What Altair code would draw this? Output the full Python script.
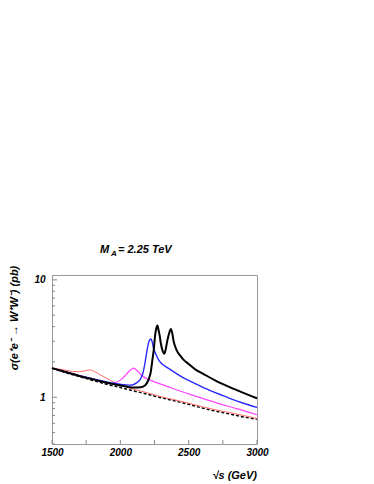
import altair as alt
import pandas as pd

# ---- data (sqrt(s) in GeV, sigma in pb) ----
sm_x = [1500, 1600, 1700, 1800, 1900, 2000, 2100, 2200, 2300, 2400, 2500, 2600, 2700, 2800, 2900, 3000]
sm_y = [1.77, 1.62, 1.50, 1.39, 1.29, 1.21, 1.13, 1.06, 0.99, 0.93, 0.87, 0.81, 0.76, 0.72, 0.68, 0.65]

red_x = [1500, 1600, 1650, 1700, 1740, 1778, 1810, 1850, 1900, 1950, 2000, 2100, 2200, 2300, 2400, 2500, 2600, 2700, 2800, 2900, 3000]
red_y = [1.78, 1.70, 1.66, 1.65, 1.68, 1.71, 1.66, 1.56, 1.45, 1.35, 1.27, 1.17, 1.09, 1.01, 0.95, 0.89, 0.83, 0.78, 0.74, 0.70, 0.66]

mag_x = [1500, 1600, 1700, 1800, 1900, 1925, 1962, 2000, 2040, 2072, 2096, 2120, 2145, 2180, 2218, 2291, 2400, 2500, 2600, 2700, 2800, 2900, 3000]
mag_y = [1.77, 1.64, 1.53, 1.43, 1.33, 1.31, 1.33, 1.40, 1.55, 1.70, 1.77, 1.70, 1.58, 1.47, 1.40, 1.30, 1.17, 1.07, 0.98, 0.90, 0.83, 0.77, 0.71]

blue_x = [1500, 1600, 1700, 1800, 1900, 2000, 2072, 2100, 2132, 2150, 2165, 2182, 2194, 2206, 2215, 2223, 2232, 2243, 2262, 2280, 2300, 2350, 2400, 2450, 2500, 2600, 2700, 2800, 2900, 3000]
blue_y = [1.77, 1.64, 1.53, 1.43, 1.35, 1.29, 1.27, 1.29, 1.36, 1.45, 1.60, 2.01, 2.45, 2.89, 3.08, 3.14, 3.00, 2.62, 2.30, 2.08, 1.95, 1.77, 1.62, 1.49, 1.39, 1.22, 1.09, 0.98, 0.89, 0.82]

blk_x = [1500, 1600, 1700, 1800, 1900, 2000, 2050, 2100, 2150, 2180, 2194, 2210, 2223, 2235, 2243, 2255, 2265, 2272, 2280, 2287, 2296, 2304, 2315, 2322, 2330, 2345, 2360, 2370, 2380, 2390, 2410, 2440, 2460, 2500, 2550, 2600, 2700, 2800, 2900, 3000]
blk_y = [1.77, 1.64, 1.52, 1.42, 1.33, 1.26, 1.23, 1.21, 1.22, 1.26, 1.32, 1.45, 1.65, 2.10, 2.45, 3.40, 3.95, 4.08, 3.70, 3.40, 2.90, 2.62, 2.40, 2.35, 2.50, 3.08, 3.60, 3.82, 3.50, 3.00, 2.55, 2.25, 2.10, 1.92, 1.72, 1.60, 1.38, 1.22, 1.09, 0.98]

x_tick_vals = [1500, 1750, 2000, 2250, 2500, 2750, 3000]
x_label_vals = [1500, 2000, 2500, 3000]
y_major_vals = [1, 10]
y_minor_vals = [0.4, 0.5, 0.6, 0.7, 0.8, 0.9, 2, 3, 4, 5, 6, 7, 8, 9]

W, H = 205, 169
FONT = "Liberation Sans"

xs = alt.Scale(domain=[1500, 3000], nice=False, zero=False)
ys = alt.Scale(type="log", domain=[0.4, 11], nice=False)

xaxis = alt.Axis(values=x_label_vals, ticks=False, domain=False, grid=False,
                 labelFont=FONT, labelFontSize=10, labelFontWeight="bold",
                 labelFontStyle="italic", labelColor="black", labelPadding=3,
                 labelFlush=False, labelOverlap=False, labelBound=False,
                 title=None, format="d")
yaxis = alt.Axis(values=y_major_vals, ticks=False, domain=False, grid=False,
                 labelFont=FONT, labelFontSize=10, labelFontWeight="bold",
                 labelFontStyle="italic", labelColor="black", labelPadding=7,
                 labelFlush=False, labelOverlap=False, labelBound=False,
                 title=None, format="~g")


def line(xv, yv, color, width, dash=None):
    df = pd.DataFrame({"x": xv, "y": yv})
    kw = dict(color=color, strokeWidth=width, interpolate="monotone")
    if dash:
        kw["strokeDash"] = dash
    return alt.Chart(df).mark_line(**kw).encode(
        x=alt.X("x:Q", scale=xs, axis=xaxis),
        y=alt.Y("y:Q", scale=ys, axis=yaxis),
    )


sm = line(sm_x, sm_y, "black", 1.4, dash=[3, 2])
red = line(red_x, red_y, "#ff6a6a", 1.0)
mag = line(mag_x, mag_y, "#ff44ff", 1.2)
blue = line(blue_x, blue_y, "#2a2aff", 1.4)
blk = line(blk_x, blk_y, "black", 2.0)

xt = alt.Chart(pd.DataFrame({"x": x_tick_vals})).mark_rule(color="#888", strokeWidth=1).encode(
    x=alt.X("x:Q", scale=xs, axis=xaxis), y=alt.value(H), y2=alt.value(H - 4))
ymaj = alt.Chart(pd.DataFrame({"y": y_major_vals})).mark_rule(color="#888", strokeWidth=1).encode(
    y=alt.Y("y:Q", scale=ys, axis=yaxis), x=alt.value(0), x2=alt.value(5))
ymin = alt.Chart(pd.DataFrame({"y": y_minor_vals})).mark_rule(color="#888", strokeWidth=1).encode(
    y=alt.Y("y:Q", scale=ys, axis=yaxis), x=alt.value(0), x2=alt.value(3))


def txt(s, x, y, size=11, align="left", baseline="alphabetic", angle=0):
    kw = dict(text=s, font=FONT, fontSize=size, fontWeight="bold", fontStyle="italic",
              align=align, baseline=baseline, color="black")
    if angle:
        kw["angle"] = angle
    return alt.Chart(pd.DataFrame({"a": [0]})).mark_text(**kw).encode(
        x=alt.value(x), y=alt.value(y))


t_M = txt("M", 48, -22)
t_A = txt("A", 59, -19, size=8)
t_rest = txt("= 2.25 TeV", 66, -22)
t_y = txt("σ(e⁺e⁻ → W⁺W⁻) (pb)", -37, 43, size=11, align="center", baseline="middle", angle=270)
t_x = txt("√s (GeV)", W, 204, size=11, align="right")

chart = alt.layer(sm, red, mag, blue, blk, xt, ymaj, ymin, t_M, t_A, t_rest, t_y, t_x).properties(
    width=W, height=H,
    autosize=alt.AutoSizeParams(type="none"),
    padding={"left": 44, "top": 267, "right": 100, "bottom": 40},
).configure_view(stroke="#999", strokeWidth=1)

chart.save("out.html", embed_options={"renderer": "svg", "actions": False})
